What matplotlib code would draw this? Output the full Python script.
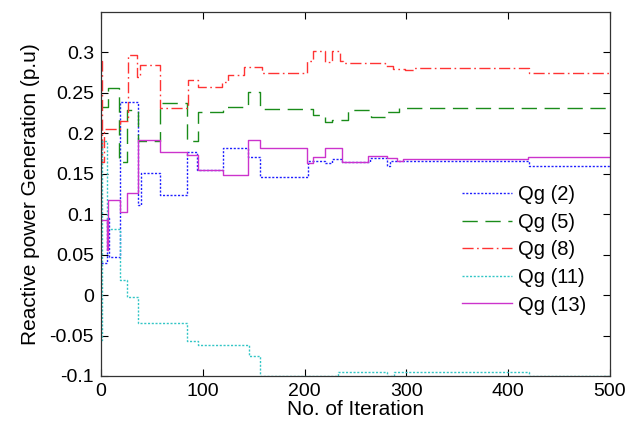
import numpy as np
import matplotlib
matplotlib.use("Agg")
import matplotlib.pyplot as plt
from matplotlib.ticker import FuncFormatter

plt.rcParams["font.family"] = ["Liberation Sans", "DejaVu Sans"]
plt.rcParams["lines.scale_dashes"] = False

# ---------------------------------------------------
# Data (step changes)
# ---------------------------------------------------
x_q2 = [0, 6, 8, 19, 36, 39, 58, 85, 94, 120, 144, 156, 203, 220, 227, 237, 264, 281, 284, 421, 500]
y_q2 = [0.04, 0.095, 0.047, 0.239, 0.112, 0.151, 0.124, 0.177, 0.155, 0.182, 0.171, 0.146,
        0.166, 0.163, 0.168, 0.165, 0.17, 0.159, 0.166, 0.16, 0.16]

x_q5 = [0, 7, 18, 25.5, 36, 58, 84.5, 95, 120, 144.5, 156, 208, 220, 227, 243, 265, 281, 293, 500]
y_q5 = [0.232, 0.256, 0.165, 0.229, 0.19, 0.237, 0.19, 0.226, 0.232, 0.251, 0.230, 0.223,
        0.214, 0.216, 0.229, 0.22, 0.226, 0.231, 0.231]

x_q8 = [0, 1, 3, 19, 26.5, 35, 38, 58, 85.5, 95, 119, 125, 141, 158, 202, 208, 220, 227,
        235, 238, 279, 287, 299, 308, 421, 500]
y_q8 = [0.29, 0.165, 0.205, 0.215, 0.297, 0.27, 0.285, 0.231, 0.266, 0.257, 0.263, 0.272,
        0.282, 0.275, 0.29, 0.302, 0.288, 0.302, 0.29, 0.287, 0.283, 0.279, 0.278, 0.281,
        0.275, 0.275]

x_q11 = [0, 1, 6, 19, 26, 36, 85, 95, 145, 156, 233, 281, 288, 421, 500]
y_q11 = [-0.055, 0.19, 0.082, 0.019, -0.002, -0.035, -0.057, -0.062, -0.075, -0.1,
         -0.095, -0.1, -0.095, -0.1, -0.1]

x_q13 = [0, 6, 7, 19, 25.5, 36, 58, 85, 95, 120, 144.5, 156, 202, 208, 220, 237, 262,
         281, 291, 297, 420, 500]
y_q13 = [0.093, 0.056, 0.117, 0.103, 0.126, 0.192, 0.177, 0.173, 0.155, 0.149, 0.192,
         0.182, 0.163, 0.171, 0.182, 0.165, 0.172, 0.169, 0.166, 0.168, 0.171, 0.171]

labels = ["Qg (2)", "Qg (5)", "Qg (8)", "Qg (11)", "Qg (13)"]

# ---------------------------------------------------
# Plot
# ---------------------------------------------------
fig = plt.figure(figsize=(6.3, 4.28), dpi=100)
ax = fig.add_axes([0.1603, 0.1215, 0.8077, 0.8505])

series = [
    (x_q2, y_q2, "#1f1fff", (1.5, 1.2)),
    (x_q5, y_q5, "#1a8c1a", (11, 5.5)),
    (x_q8, y_q8, "#ff3333", (8, 2.5, 1.2, 2.5)),
    (x_q11, y_q11, "#33c6c6", (1.5, 1.2)),
    (x_q13, y_q13, "#cc33cc", None),
]

for (xs, ys, color, dashes), label in zip(series, labels):
    line, = ax.step(xs, ys, where="post", color=color, linewidth=1.0, label=label)
    if dashes is not None:
        line.set_dashes(dashes)

ax.set_xlim(0, 500)
ax.set_ylim(-0.1, 0.35)
ax.set_xticks(np.arange(0, 501, 100))
ax.set_yticks(np.arange(-0.1, 0.301, 0.05))
ax.yaxis.set_major_formatter(FuncFormatter(lambda v, p: "%g" % round(v, 2)))

ax.tick_params(direction="in", length=5, width=0.8, top=True, right=True,
               labelsize=14, pad=5)
for s in ax.spines.values():
    s.set_color("#333333")
    s.set_linewidth(0.9)

ax.set_xlabel("No. of Iteration", fontsize=15, labelpad=0)
ax.set_ylabel("Reactive power Generation (p.u)", fontsize=15, labelpad=7)

ax.legend(loc="upper left", bbox_to_anchor=(0.709, 0.525), frameon=False,
          fontsize=14.5, handlelength=2.5, handletextpad=0.3, labelspacing=0.43,
          borderpad=0, borderaxespad=0)

fig.savefig("out.png", dpi=100)
